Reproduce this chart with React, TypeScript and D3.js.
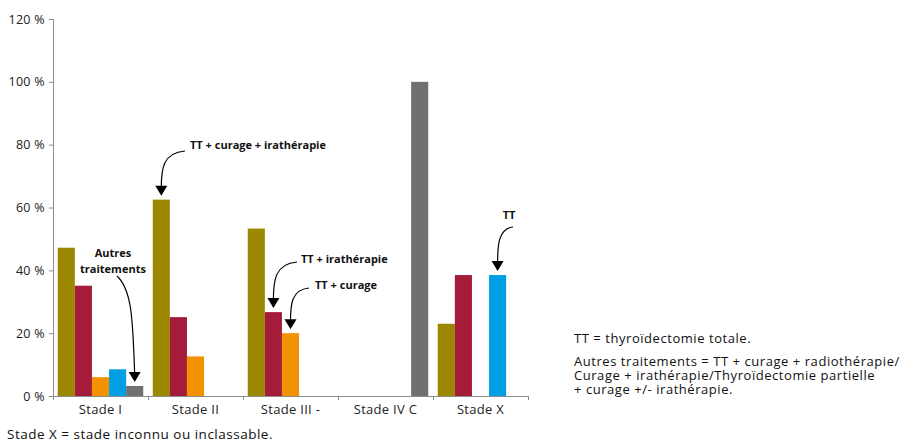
import * as d3 from "d3";

const stages = ["Stade I", "Stade II", "Stade III -", "Stade IV C", "Stade X"];
const treatments = ["TT + curage + irathérapie", "TT + irathérapie", "TT + curage", "TT", "Autres traitements"];
const colors = ["#9b8700", "#a51c3a", "#f39200", "#009fe3", "#707070"];

// percent per stage, one array per treatment (null = no bar)
const tcIra = [47.2, 62.5, 53.3, null, 23];
const tIra = [35.1, 25.1, 26.7, null, 38.5];
const tCur = [6, 12.6, 20, null, null];
const ttOnly = [8.5, null, null, null, 38.5];
const autres = [3.2, null, null, 100, null];
const series = [tcIra, tIra, tCur, ttOnly, autres];

const yTicks = [0, 20, 40, 60, 80, 100, 120];

const W = 912;
const H = 443;
const font = "'Open Sans', Lato, sans-serif";

export default function App() {
  const x = d3.scaleBand<string>().domain(stages).range([53, 528]).paddingOuter(0.05).paddingInner(0.1);
  const inner = d3.scaleBand<number>().domain(d3.range(treatments.length)).range([0, x.bandwidth()]);
  const y = d3.scaleLinear().domain([0, 120]).range([396, 19]);

  const bars: { s: number; t: number; v: number }[] = [];
  series.forEach((arr, t) =>
    arr.forEach((v, s) => {
      if (v != null) bars.push({ s, t, v });
    })
  );

  const barTop = (s: number, t: number) => {
    const v = series[t][s] as number;
    return [x(stages[s])! + inner(t)! + inner.bandwidth() / 2, y(v)];
  };

  // annotations: text position, curve start, target bar
  const notes = [
    { lines: ["TT + curage + irathérapie"], tx: 190, ty: 149, anchor: "start", sx: 185, sy: 151, s: 1, t: 0, bend: -1 },
    { lines: ["Autres", "traitements"], tx: 113, ty: 257, anchor: "middle", sx: 117, sy: 276, s: 0, t: 4, bend: 1 },
    { lines: ["TT + irathérapie"], tx: 301, ty: 263, anchor: "start", sx: 297, sy: 262, s: 2, t: 1, bend: -1 },
    { lines: ["TT + curage"], tx: 315, ty: 289, anchor: "start", sx: 309, sy: 288, s: 2, t: 2, bend: -1 },
    { lines: ["TT"], tx: 509, ty: 219, anchor: "middle", sx: 513, sy: 227, s: 4, t: 3, bend: -1 },
  ];

  const edges = d3.range(stages.length + 1).map((i) => 53 + i * 95);

  return (
    <svg width={W} height={H} style={{ position: "absolute", left: 0, top: 0, background: "#fff" }} fontFamily={font}>
      {/* axes */}
      <line x1={53.5} x2={53.5} y1={19} y2={396} stroke="#8c8c8c" />
      {yTicks.map((t) => (
        <g key={t}>
          <line x1={49} x2={53.5} y1={y(t) + 0.5} y2={y(t) + 0.5} stroke="#8c8c8c" />
          <text x={45} y={y(t) + 4.5} textAnchor="end" fontSize={12.5} letterSpacing={0.3} fill="#222">
            {t} %
          </text>
        </g>
      ))}
      {bars.map((b) => (
        <rect
          key={`${b.s}-${b.t}`}
          x={x(stages[b.s])! + inner(b.t)!}
          y={y(b.v)}
          width={inner.bandwidth()}
          height={396 - y(b.v)}
          fill={colors[b.t]}
        />
      ))}
      <line x1={53} x2={528} y1={396.5} y2={396.5} stroke="#8c8c8c" />
      {edges.map((e) => (
        <line key={e} x1={e + 0.5} x2={e + 0.5} y1={396} y2={400} stroke="#8c8c8c" />
      ))}
      {stages.map((s) => (
        <text key={s} x={x(s)! + x.bandwidth() / 2} y={414} textAnchor="middle" fontSize={13} letterSpacing={0.3} fill="#222">
          {s}
        </text>
      ))}
      {/* annotations */}
      {notes.map((n, i) => {
        const [bx, by] = barTop(n.s, n.t);
        const ex = bx;
        const ey = by - 12;
        const cx = n.bend < 0 ? ex + (n.sx - ex) * 0.05 : ex - (ex - n.sx) * 0.1;
        const cy = n.bend < 0 ? n.sy + (ey - n.sy) * 0.05 : n.sy + (ey - n.sy) * 0.15;
        const c2x = n.bend < 0 ? ex : ex - 2;
        const c2y = n.sy + (ey - n.sy) * 0.5;
        return (
          <g key={i}>
            {n.lines.map((l, j) => (
              <text key={j} x={n.tx} y={n.ty + j * 16} textAnchor={n.anchor} fontSize={11} fontWeight="bold" fill="#111">
                {l}
              </text>
            ))}
            <path
              d={`M${n.sx},${n.sy} C${cx},${cy} ${c2x},${c2y} ${ex},${ey}`}
              fill="none"
              stroke="#000"
              strokeWidth={1.2}
            />
            <path d={`M${ex - 6},${ey - 2} L${ex + 6},${ey - 2} L${ex},${ey + 8} Z`} fill="#000" />
          </g>
        );
      })}
      {/* notes */}
      <g fontSize={13} letterSpacing={0.55} fill="#111">
        <text x={574} y={343}>TT = thyroïdectomie totale.</text>
        <text x={574} y={366}>Autres traitements = TT + curage + radiothérapie/</text>
        <text x={574} y={380}>Curage + irathérapie/Thyroïdectomie partielle</text>
        <text x={574} y={394}>+ curage +/- irathérapie.</text>
      </g>
      <text x={7} y={439} fontSize={13.5} letterSpacing={0.5} fill="#111">
        Stade X = stade inconnu ou inclassable.
      </text>
    </svg>
  );
}
